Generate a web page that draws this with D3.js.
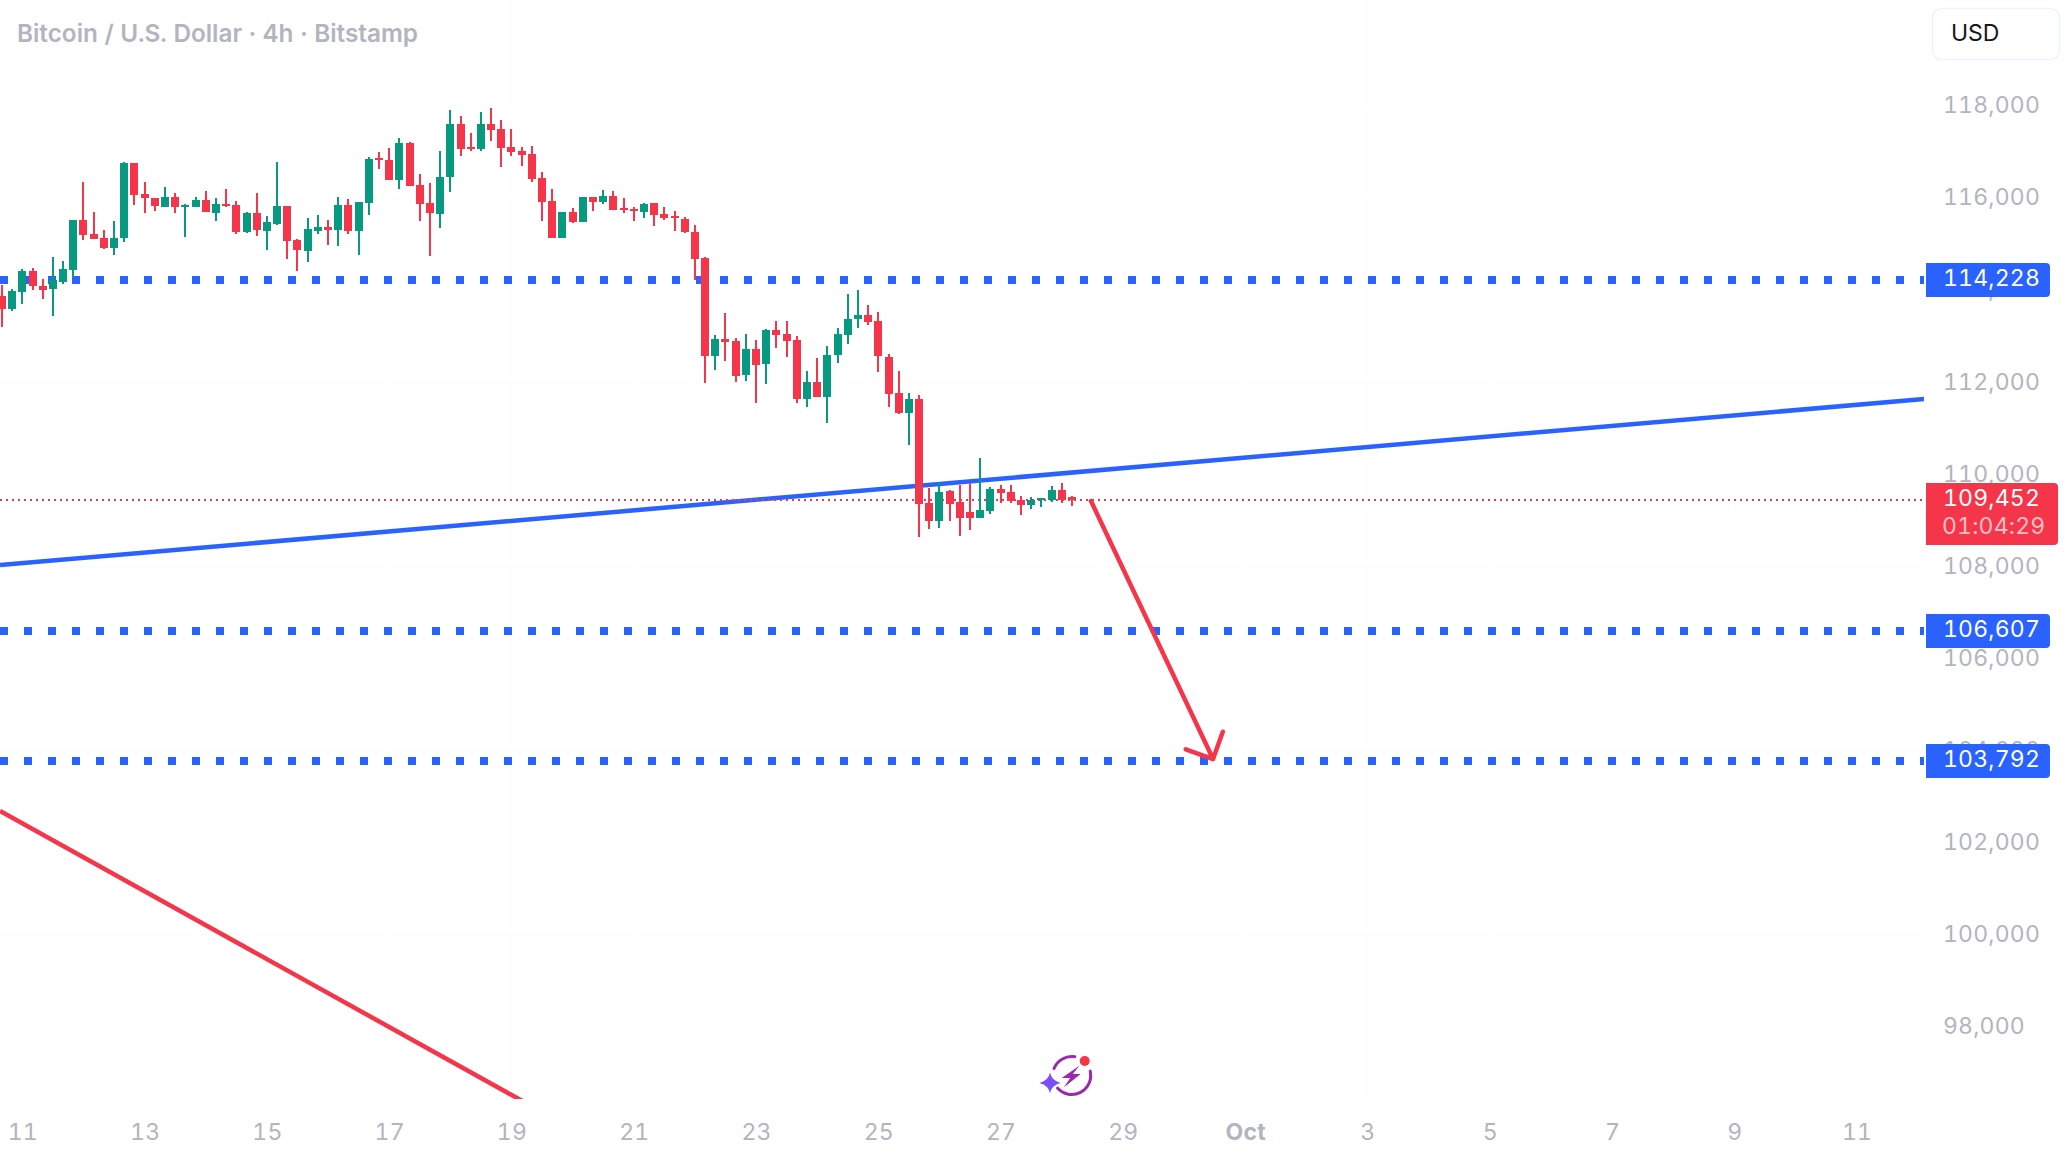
<!DOCTYPE html>
<html>
<head>
<meta charset="utf-8">
<title>Bitcoin / U.S. Dollar 4h</title>
<script src="https://cdnjs.cloudflare.com/ajax/libs/d3/7.9.0/d3.min.js"></script>
<style>
  html, body { margin: 0; padding: 0; background: #fff; overflow: hidden; }
  svg { display: block; }
  text { font-family: Inter, "Noto Sans", sans-serif; font-variant-numeric: tabular-nums; font-feature-settings: "tnum" 1; }
</style>
</head>
<body>
<svg id="chart" width="2068" height="1156"></svg>
<script>
// 4h candles, oldest first
const firstBar = "2025-09-10T16:00:00Z";
const barHours = 4;
const opens = [113881,113598,113967,114423,114098,114032,114184,114445,115531,115227,115140,114923,115140,116768,116095,116008,115813,116030,115813,115813,115965,115682,115878,115856,115270,115682,115292,115444,115835,115096,114857,115292,115379,115313,115856,115292,115900,116877,116833,116399,117202,116290,115900,115661,116464,117615,117115,117072,117615,117506,117115,117029,116963,116442,115943,115140,115704,115487,116030,115921,116052,115791,115769,115704,115900,115661,115617,115552,115270,114706,112578,112947,112904,112165,112730,112404,113142,113056,112925,111644,112013,111688,112600,113034,113381,113468,113338,112556,111775,111340,111644,109386,108996,109647,109408,109191,109061,109213,109690,109625,109452,109343,109452,109452,109669,109517];
const highs = [114119,114032,114467,114488,114250,114727,114640,115531,116356,115704,115313,115509,116790,116768,116356,116008,116247,116117,115878,116030,116160,116008,116204,115943,115704,116117,115617,116790,115835,115118,115574,115639,115531,116030,115987,115921,116898,117007,117094,117311,117224,116529,116334,117029,117919,117788,117419,117875,117962,117702,117506,117115,117137,116573,116204,115704,115791,116030,116030,116182,116160,116008,115813,115900,115900,115813,115726,115596,115422,114727,113034,113511,112969,113056,112925,113164,113338,113338,113012,112252,112535,112795,113186,113924,114011,113685,113533,112621,112252,111775,111731,109712,109842,109669,109777,109821,110363,109734,109777,109777,109538,109517,109495,109755,109821,109538];
const lows = [113208,113555,113707,114011,113815,113446,114141,114271,115096,115118,114901,114771,115053,115856,115682,115726,115813,115682,115161,115813,115704,115509,115813,115227,115248,115183,114879,115422,114684,114423,114619,115227,114988,114966,115227,114771,115639,116638,116399,116204,116269,115509,114749,115357,116138,116920,117029,117029,117246,116681,116920,116703,116356,115509,115140,115140,115465,115487,115726,115878,115748,115682,115509,115574,115400,115531,115292,115248,114228,111992,112274,112469,112013,112035,111558,111970,112752,112556,111558,111471,111688,111123,112426,112838,113186,113251,112230,111471,111319,110646,108648,108822,108844,108996,108670,108800,109061,109147,109386,109386,109126,109256,109300,109408,109386,109321];
const closes = [113598,113989,114423,114098,114011,114228,114467,115531,115205,115118,114923,115140,116768,116073,116008,115835,116030,115813,115856,115965,115704,115878,115835,115270,115682,115313,115487,115835,115075,114879,115335,115379,115313,115856,115292,115921,116855,116833,116399,117202,116269,115878,115682,116464,117615,117072,117072,117615,117485,117094,117007,116942,116421,115921,115140,115704,115487,116030,115921,116052,115748,115748,115726,115878,115639,115574,115574,115270,114684,112578,112947,112882,112144,112730,112383,113142,113034,112904,111644,112013,111688,112600,113056,113381,113468,113316,112578,111753,111340,111644,109365,108996,109625,109365,109061,109061,109234,109690,109604,109430,109343,109452,109495,109669,109452,109452];

// price axis
const priceTicks = [98000,100000,102000,104000,106000,108000,110000,112000,114000,116000,118000];
const supportLevels = [114228,106607,103792];
const lastPrice = 109452;
const countdown = "01:04:29";

// time axis
const dayTicks = ["2025-09-11","2025-09-13","2025-09-15","2025-09-17","2025-09-19","2025-09-21","2025-09-23","2025-09-25","2025-09-27","2025-09-29","2025-10-01","2025-10-03","2025-10-05","2025-10-07","2025-10-09","2025-10-11"];

// hand-drawn analysis, anchors given as [bar number, price]
const risingTrend = [[-0.19,108040],[188.62,111644]];
const fallingTrend = [[-0.19,102699],[56,95800]];
const projection = [[106.87,109430],[118.85,103828]];

const W = 2068, paneRight = 1924, paneBottom = 1099, labelLeft = 1926;
const RED = "#F5364A", GREEN = "#089981", BLUE = "#2962FF", GREY = "#B2B5BE";

const t0 = Date.parse(firstBar), barMs = barHours * 3600e3;
const barTime = i => new Date(t0 + i * barMs);

const x = d3.scaleUtc().domain([barTime(0), barTime(1)]).range([1.97, 12.16]);
const y = d3.scaleLinear().domain([114228, 103792]).range([280, 760.7]);

const svg = d3.select("#chart");
const defs = svg.append("defs");
defs.append("clipPath").attr("id", "pane").append("rect")
  .attr("width", paneRight).attr("height", paneBottom);

// faint grid
const dayDates = dayTicks.map(d => new Date(d + "T00:00:00Z"));
const grid = svg.append("g").attr("stroke", "#fcfcfd").attr("stroke-width", 1);
grid.selectAll("line.v").data(dayDates).join("line").attr("class", "v")
  .attr("x1", d => Math.round(x(d)) + .5).attr("x2", d => Math.round(x(d)) + .5)
  .attr("y1", 0).attr("y2", paneBottom);
grid.selectAll("line.h").data(priceTicks).join("line").attr("class", "h")
  .attr("x1", 0).attr("x2", paneRight)
  .attr("y1", d => Math.round(y(d)) + .5).attr("y2", d => Math.round(y(d)) + .5);

const pane = svg.append("g").attr("clip-path", "url(#pane)");
const pointLine = d3.line().x(d => x(barTime(d[0]))).y(d => y(d[1]));

// dotted horizontal levels
pane.append("g").selectAll("line").data(supportLevels).join("line")
  .attr("x1", 0).attr("x2", paneRight)
  .attr("y1", d => Math.round(y(d))).attr("y2", d => Math.round(y(d)))
  .attr("stroke", BLUE).attr("stroke-width", 8).attr("stroke-dasharray", "8 16");

// trend lines
pane.append("path").attr("d", pointLine(risingTrend))
  .attr("fill", "none").attr("stroke", BLUE).attr("stroke-width", 4.5);
pane.append("path").attr("d", pointLine(fallingTrend))
  .attr("fill", "none").attr("stroke", RED).attr("stroke-width", 4.5);

// last price line
pane.append("line")
  .attr("x1", 0).attr("x2", paneRight)
  .attr("y1", Math.round(y(lastPrice))).attr("y2", Math.round(y(lastPrice)))
  .attr("stroke", RED).attr("stroke-width", 2).attr("stroke-dasharray", "2 4");

// projection arrow with a 45 degree head
const [pa, pb] = projection.map(d => [x(barTime(d[0])), y(d[1])]);
const heading = Math.atan2(pb[1] - pa[1], pb[0] - pa[0]);
const headLen = 29;
const barb = a => [pb[0] - headLen * Math.cos(heading + a), pb[1] - headLen * Math.sin(heading + a)];
const arrow = d3.path();
arrow.moveTo(pa[0], pa[1]); arrow.lineTo(pb[0], pb[1]);
const b1 = barb(Math.PI / 4), b2 = barb(-Math.PI / 4);
arrow.moveTo(b1[0], b1[1]); arrow.lineTo(pb[0], pb[1]); arrow.lineTo(b2[0], b2[1]);
pane.append("path").attr("d", arrow.toString())
  .attr("fill", "none").attr("stroke", RED).attr("stroke-width", 4.5)
  .attr("stroke-linecap", "round").attr("stroke-linejoin", "round");

// candles
const bars = opens.map((o, i) => ({ i, o, h: highs[i], l: lows[i], c: closes[i] }));
const candle = pane.append("g").attr("shape-rendering", "crispEdges")
  .selectAll("g").data(bars).join("g")
  .attr("fill", d => d.c < d.o ? RED : GREEN);
const cx = d => Math.round(x(barTime(d.i)));
candle.append("rect")
  .attr("x", d => cx(d) - 1).attr("width", 2)
  .attr("y", d => Math.round(y(d.h)))
  .attr("height", d => Math.max(1, Math.round(y(d.l)) - Math.round(y(d.h))));
candle.append("rect")
  .attr("x", d => cx(d) - 4).attr("width", 8)
  .attr("y", d => Math.round(y(Math.max(d.o, d.c))))
  .attr("height", d => Math.max(2, Math.round(y(Math.min(d.o, d.c))) - Math.round(y(Math.max(d.o, d.c)))));

// axes
const axisFont = g => g.call(s => s.select(".domain").remove())
  .call(s => s.selectAll("line").remove())
  .call(s => s.selectAll("text").attr("fill", GREY)
    .attr("font-family", "Inter, sans-serif").attr("font-size", 23).attr("letter-spacing", "0.2px"));

const yAxis = d3.axisRight(y).tickValues(priceTicks).tickSize(0).tickPadding(0).tickFormat(d3.format(","));
svg.append("g").attr("transform", "translate(1943,-1)")
  .call(yAxis).call(axisFont);

const monthName = d3.utcFormat("%b"), dayNumber = d3.utcFormat("%-d");
const xAxis = d3.axisBottom(x).tickValues(dayDates).tickSize(0).tickPadding(0)
  .tickFormat(d => d.getUTCDate() === 1 ? monthName(d) : dayNumber(d));
svg.append("g").attr("transform", "translate(0,1123.5)")
  .call(xAxis).call(axisFont)
  .call(g => g.selectAll("text").filter(d => d.getUTCDate() === 1).attr("font-weight", 700));

// coloured price tags on the scale
const tagPath = (top, bottom, right) => {
  const r = 4, p = d3.path();
  p.moveTo(labelLeft, top);
  p.lineTo(right - r, top); p.arcTo(right, top, right, top + r, r);
  p.lineTo(right, bottom - r); p.arcTo(right, bottom, right - r, bottom, r);
  p.lineTo(labelLeft, bottom); p.closePath();
  return p.toString();
};
const tagText = (sel, yc) => sel.attr("x", 1943).attr("y", yc).attr("dy", ".35em")
  .attr("fill", "#fff").attr("font-family", "Inter, sans-serif").attr("font-size", 23).attr("letter-spacing", "0.2px");

const levelTags = svg.append("g").selectAll("g").data(supportLevels).join("g");
levelTags.append("path").attr("d", d => tagPath(Math.round(y(d)) - 17, Math.round(y(d)) + 17, 2050)).attr("fill", BLUE);
levelTags.append("text").each(function (d) { tagText(d3.select(this), y(d) - 2); }).text(d3.format(","));

const lastTag = svg.append("g");
lastTag.append("path").attr("d", tagPath(483, 545, 2058)).attr("fill", RED);
lastTag.append("text").call(tagText, 498).text(d3.format(",")(lastPrice));
lastTag.append("text").call(tagText, 526).attr("x", 1942).attr("fill-opacity", .7).text(countdown);

// title and currency button
svg.append("text").attr("x", 17).attr("y", 33).attr("dy", ".35em")
  .attr("fill", GREY).attr("font-family", '"Noto Sans", sans-serif').attr("font-weight", 600).attr("font-size", 24.3)
  .text("Bitcoin / U.S. Dollar · 4h · Bitstamp");

svg.append("rect").attr("x", 1932.5).attr("y", 8.5).attr("width", 127).attr("height", 51).attr("rx", 9)
  .attr("fill", "#fff").attr("stroke", "#f0f3fa").attr("stroke-width", 1.5);
svg.append("text").attr("x", 1951).attr("y", 33).attr("dy", ".35em")
  .attr("fill", "#131722").attr("font-size", 23).text("USD");

// badge: sparkle, broken ring, bolt and notification dot
const badge = svg.append("g").attr("transform", "translate(1071.7,1075.5)");
const arc = d3.arc().innerRadius(17.5).outerRadius(20.5).cornerRadius(1.5);
const deg = Math.PI / 180;
badge.selectAll("path.ring").data([[72 * deg, 233 * deg], [287 * deg, 374 * deg]])
  .join("path").attr("class", "ring").attr("fill", "#9C27B0")
  .attr("d", d => arc({ startAngle: d[0], endAngle: d[1] }));
badge.append("path").attr("fill", "#9C27B0")
  .attr("d", "M8,-10 L-10,2.5 L-1.5,2.5 L-8,12 L9,-1.5 L1,-1.5 Z");
badge.append("path").attr("fill", "#7B4DFF")
  .attr("d", "M-21.7,-3 Q-20.2,5 -11.2,7.4 Q-20.2,9.8 -21.7,17.8 Q-23.2,9.8 -32.2,7.4 Q-23.2,5 -21.7,-3 Z");
badge.append("circle").attr("cx", 13).attr("cy", -14.5).attr("r", 5).attr("fill", "#F23645");
</script>
</body>
</html>
